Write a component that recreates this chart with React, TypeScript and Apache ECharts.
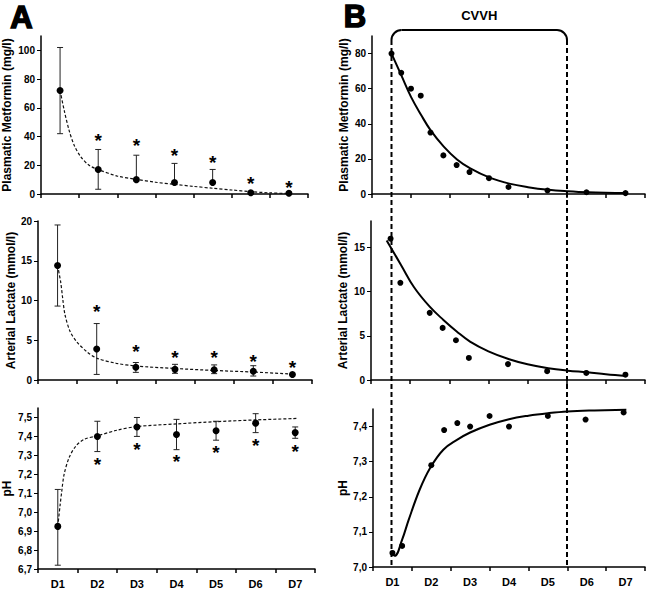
import React, { useEffect, useRef } from 'react';
import * as echarts from 'echarts';

const FONT = '"Liberation Sans", Arial, sans-serif';

// ---- categories ----
const days = ['D1', 'D2', 'D3', 'D4', 'D5', 'D6', 'D7'];
const dayPos = [1, 2, 3, 4, 5, 6, 7];

// ---- Panel A: Plasmatic Metformin (mean, error bars, significance marks, fit) ----
const metMean = [72, 17, 10, 8, 8, 0.9, 0.5];
const metLow = [42, 3.3, null, null, null, null, null];
const metHigh = [102, 31, 27, 21.3, 17.1, null, null];
const metStar = [null, 39.8, 36.8, 29.9, 25, 10.4, 7.6];
const metFitX = [1, 1.11, 1.24, 1.37, 1.54, 1.76, 2, 2.5, 3, 3.5, 4, 4.5, 5, 5.5, 6, 6.5, 7];
const metFitY = [72, 58, 44, 34, 26, 20, 17, 12.5, 10.2, 8.2, 6.7, 5.3, 4, 2.8, 1.6, 0.8, 0.3];

// ---- Panel A: Arterial Lactate ----
const lacMean = [14.4, 3.9, 1.6, 1.34, 1.3, 1.1, 0.7];
const lacLow = [9.3, 0.7, 0.96, 0.84, 0.8, 0.5, null];
const lacHigh = [19.5, 7.1, 2.2, 1.97, 1.9, 1.8, null];
const lacStar = [null, 9.07, 4.06, 3.35, 3.3, 2.8, 2.1];
const lacFitX = [1, 1.08, 1.13, 1.19, 1.32, 1.49, 1.75, 2, 2.5, 3, 4, 5, 6, 7];
const lacFitY = [14.4, 12.3, 10.3, 8.2, 6.1, 4.8, 3.55, 2.75, 2.1, 1.76, 1.45, 1.2, 1.0, 0.75];

// ---- Panel A: pH ----
const phMean = [6.925, 7.4, 7.45, 7.41, 7.43, 7.47, 7.42];
const phLow = [6.72, 7.32, 7.4, 7.33, 7.38, 7.42, 7.39];
const phHigh = [7.12, 7.48, 7.5, 7.49, 7.48, 7.52, 7.45];
const phStar = [null, 7.274, 7.353, 7.288, 7.336, 7.373, 7.341];
const phFitX = [1, 1.06, 1.1, 1.16, 1.29, 1.46, 1.67, 2, 2.5, 3, 4, 5, 6, 7.07];
const phFitY = [6.925, 7.04, 7.11, 7.2, 7.29, 7.35, 7.385, 7.403, 7.433, 7.452, 7.466, 7.478, 7.487, 7.495];

// ---- Panel B: single patient ----
const bMetX = [1, 1.25, 1.5, 1.75, 2, 2.33, 2.67, 3, 3.5, 4, 5, 6, 7];
const bMetY = [80, 69, 60, 56, 35, 22, 16.5, 12.5, 9, 4, 2, 1, 0.5];
const bMetFitX = [1, 1.25, 1.5, 1.76, 2, 2.34, 2.68, 3.02, 3.52, 4.02, 4.5, 5.03, 5.5, 6.03, 7.03];
const bMetFitY = [80, 67.7, 55.3, 45, 36.4, 27, 19.7, 14.6, 9.3, 5.9, 3.9, 2.4, 1.6, 1.0, 0.5];

const bLacX = [1, 1.25, 2, 2.33, 2.67, 3, 4, 5, 6, 7];
const bLacY = [16, 11, 7.6, 5.9, 4.5, 2.5, 1.8, 1.0, 0.8, 0.6];
const bLacFitX = [0.9, 1.27, 1.6, 2, 2.35, 2.69, 3.03, 3.5, 4.03, 4.5, 5.03, 5.53, 6.03, 6.5, 7.02];
const bLacFitY = [15.8, 13.0, 10.5, 8.3, 6.8, 5.5, 4.35, 3.25, 2.35, 1.78, 1.33, 1.06, 0.87, 0.65, 0.45];

const bPhX = [1, 1.25, 2, 2.33, 2.67, 3, 3.5, 4, 5, 5.97, 6.95];
const bPhY = [7.04, 7.06, 7.29, 7.39, 7.41, 7.4, 7.43, 7.4, 7.43, 7.42, 7.44];
const bPhFitX = [0.97, 1.06, 1.25, 1.42, 1.7, 1.97, 2.31, 2.66, 3.0, 3.5, 4.0, 4.5, 5.0, 5.5, 6.2, 7.02];
const bPhFitY = [7.043, 7.032, 7.078, 7.135, 7.22, 7.282, 7.334, 7.362, 7.383, 7.405, 7.421, 7.431, 7.438, 7.443, 7.446, 7.448];

// CVVH period (in day units)
const cvvhStart = 1;
const cvvhEnd = 5.5;

// ---- tick labels ----
const metTicksA = [0, 20, 40, 60, 80, 100];
const lacTicksA = [0, 5, 10, 15, 20];
const phTicksA = [6.7, 6.8, 6.9, 7.0, 7.1, 7.2, 7.3, 7.4, 7.5];
const metTicksB = [0, 20, 40, 60, 80];
const lacTicksB = [0, 5, 10, 15];
const phTicksB = [7.0, 7.1, 7.2, 7.3, 7.4];

const zip = (xs: number[], ys: (number | null)[]) => xs.map((x, i) => [x, ys[i]]);

const grids = [
  { left: 40, top: 36, width: 268, height: 158 },
  { left: 38, top: 221, width: 274, height: 159 },
  { left: 37, top: 408, width: 278, height: 161 },
  { left: 372, top: 36, width: 273, height: 158 },
  { left: 371, top: 221, width: 274, height: 159 },
  { left: 373, top: 409, width: 272, height: 158 },
];

const commaFmt = (v: number) => v.toFixed(1).replace('.', ',');
const intFmt = (v: number) => String(Math.round(v));

const yCfg = [
  { min: 0, max: 110, ticks: metTicksA, name: 'Plasmatic Metformin (mg/l)', gap: 28, fmt: intFmt },
  { min: 0, max: 20, ticks: lacTicksA, name: 'Arterial Lactate (mmol/l)', gap: 19, fmt: intFmt },
  { min: 6.7, max: 7.55, ticks: phTicksA, name: 'pH', gap: 25, fmt: commaFmt },
  { min: 0, max: 90, ticks: metTicksB, name: 'Plasmatic Metformin (mg/l)', gap: 22, fmt: intFmt },
  { min: 0, max: 18, ticks: lacTicksB, name: 'Arterial Lactate (mmol/l)', gap: 22, fmt: intFmt },
  { min: 7.0, max: 7.45, ticks: phTicksB, name: 'pH', gap: 23, fmt: commaFmt },
];

function errData(mean: number[], low: (number | null)[], high: (number | null)[]) {
  const out: number[][] = [];
  mean.forEach((m, i) => {
    const lo = low[i];
    const hi = high[i];
    if (lo == null && hi == null) return;
    out.push([dayPos[i], lo == null ? m : lo, hi == null ? m : hi, m]);
  });
  return out;
}

function starData(stars: (number | null)[]) {
  const out: number[][] = [];
  stars.forEach((s, i) => {
    if (s != null) out.push([dayPos[i], s]);
  });
  return out;
}

const errRender = (params: any, api: any) => {
  const x = api.value(0);
  const lo = api.value(1);
  const hi = api.value(2);
  const m = api.value(3);
  const pLo = api.coord([x, lo]);
  const pHi = api.coord([x, hi]);
  const st = { stroke: '#222', lineWidth: 1 };
  const children: any[] = [
    { type: 'line', shape: { x1: pLo[0], y1: pLo[1], x2: pHi[0], y2: pHi[1] }, style: st },
  ];
  if (hi > m) children.push({ type: 'line', shape: { x1: pHi[0] - 3, y1: pHi[1], x2: pHi[0] + 3, y2: pHi[1] }, style: st });
  if (lo < m) children.push({ type: 'line', shape: { x1: pLo[0] - 3, y1: pLo[1], x2: pLo[0] + 3, y2: pLo[1] }, style: st });
  return { type: 'group', children };
};

const starRender = (params: any, api: any) => {
  const p = api.coord([api.value(0), api.value(1)]);
  return {
    type: 'text',
    x: p[0],
    y: p[1] + 4,
    style: {
      text: '*',
      fill: '#000',
      fontSize: 19,
      fontWeight: 'bold',
      fontFamily: FONT,
      align: 'center',
      verticalAlign: 'middle',
    },
  };
};

export default function App() {
  const ref = useRef<HTMLDivElement>(null);

  useEffect(() => {
    if (!ref.current) return;
    const chart = echarts.init(ref.current, null, { renderer: 'svg' });

    const xAxis: any[] = [];
    const yAxis: any[] = [];
    grids.forEach((g, gi) => {
      const isBottom = gi === 2 || gi === 5;
      xAxis.push({
        type: 'category',
        gridIndex: gi,
        data: days,
        boundaryGap: true,
        axisLine: { onZero: false, lineStyle: { color: '#000', width: 1.5 } },
        axisTick: { show: true, length: 4, inside: false, lineStyle: { color: '#000', width: 1.5 } },
        axisLabel: {
          show: isBottom,
          fontFamily: FONT,
          fontWeight: 'bold',
          fontSize: 11,
          color: '#000',
          margin: 9,
        },
        splitLine: { show: false },
      });
      xAxis.push({ type: 'value', gridIndex: gi, min: 0.5, max: 7.5, show: false });
      const c = yCfg[gi];
      yAxis.push({
        type: 'value',
        gridIndex: gi,
        min: c.min,
        max: c.max,
        name: c.name,
        nameLocation: 'middle',
        nameRotate: 90,
        nameGap: c.gap,
        nameTextStyle: { fontFamily: FONT, fontWeight: 'bold', fontSize: 12, color: '#000' },
        axisLine: { show: true, lineStyle: { color: '#000', width: 1.5 } },
        axisTick: { show: true, length: 4, customValues: c.ticks, lineStyle: { color: '#000', width: 1 } },
        axisLabel: {
          customValues: c.ticks,
          formatter: c.fmt,
          fontFamily: FONT,
          fontWeight: 'bold',
          fontSize: 10,
          color: '#000',
          margin: 6,
        },
        splitLine: { show: false },
      });
    });

    const series: any[] = [];
    const aPanels = [
      { fx: metFitX, fy: metFitY, mean: metMean, low: metLow, high: metHigh, star: metStar },
      { fx: lacFitX, fy: lacFitY, mean: lacMean, low: lacLow, high: lacHigh, star: lacStar },
      { fx: phFitX, fy: phFitY, mean: phMean, low: phLow, high: phHigh, star: phStar },
    ];
    aPanels.forEach((p, gi) => {
      const xi = gi * 2 + 1;
      series.push({
        type: 'line',
        xAxisIndex: xi,
        yAxisIndex: gi,
        data: zip(p.fx, p.fy),
        smooth: 0.3,
        showSymbol: false,
        silent: true,
        z: 2,
        lineStyle: { color: '#111', width: 1.2, type: [3, 2] },
      });
      series.push({
        type: 'custom',
        xAxisIndex: xi,
        yAxisIndex: gi,
        data: errData(p.mean, p.low, p.high),
        renderItem: errRender,
        z: 3,
        silent: true,
      });
      series.push({
        type: 'scatter',
        xAxisIndex: xi,
        yAxisIndex: gi,
        data: zip(dayPos, p.mean),
        symbolSize: 7,
        itemStyle: { color: '#000', opacity: 1 },
        z: 4,
      });
      series.push({
        type: 'custom',
        xAxisIndex: xi,
        yAxisIndex: gi,
        data: starData(p.star),
        renderItem: starRender,
        z: 5,
        silent: true,
      });
    });

    const bPanels = [
      { x: bMetX, y: bMetY, fx: bMetFitX, fy: bMetFitY },
      { x: bLacX, y: bLacY, fx: bLacFitX, fy: bLacFitY },
      { x: bPhX, y: bPhY, fx: bPhFitX, fy: bPhFitY },
    ];
    bPanels.forEach((p, k) => {
      const gi = k + 3;
      const xi = gi * 2 + 1;
      series.push({
        type: 'line',
        xAxisIndex: xi,
        yAxisIndex: gi,
        data: zip(p.fx, p.fy),
        smooth: 0.4,
        showSymbol: false,
        silent: true,
        z: 2,
        lineStyle: { color: '#000', width: 2 },
      });
      series.push({
        type: 'scatter',
        xAxisIndex: xi,
        yAxisIndex: gi,
        data: zip(p.x, p.y),
        symbolSize: 6,
        itemStyle: { color: '#000', opacity: 1 },
        z: 4,
      });
    });

    chart.setOption({
      animation: false,
      backgroundColor: '#fff',
      grid: grids,
      xAxis,
      yAxis,
      series,
    });

    // CVVH bracket and dashed lines, positioned through the right-hand axes
    const x1 = chart.convertToPixel({ xAxisIndex: 7 }, cvvhStart) as number;
    const x2 = chart.convertToPixel({ xAxisIndex: 7 }, cvvhEnd) as number;
    const yBottom = chart.convertToPixel({ yAxisIndex: 5 }, yCfg[5].min) as number;
    const yBr = 30;
    const r = 10;
    const solid = { stroke: '#000', lineWidth: 2, fill: null };
    const dashed = { stroke: '#000', lineWidth: 2, lineDash: [5, 3] };

    chart.setOption({
      graphic: [
        {
          type: 'text',
          x: 21.5,
          y: 17,
          style: { text: 'A', fontSize: 31, fontWeight: 'bold', fontFamily: FONT, fill: '#000', align: 'center', verticalAlign: 'middle', stroke: '#000', lineWidth: 1.5 },
        },
        {
          type: 'text',
          x: 355,
          y: 16,
          style: { text: 'B', fontSize: 31, fontWeight: 'bold', fontFamily: FONT, fill: '#000', align: 'center', verticalAlign: 'middle', stroke: '#000', lineWidth: 1.5 },
        },
        {
          type: 'text',
          x: (x1 + x2) / 2,
          y: 15.5,
          style: { text: 'CVVH', fontSize: 13, fontWeight: 'bold', fontFamily: FONT, fill: '#000', align: 'center', verticalAlign: 'middle' },
        },
        { type: 'line', shape: { x1: x1 + r, y1: yBr, x2: x2 - r, y2: yBr }, style: solid },
        { type: 'arc', shape: { cx: x1 + r, cy: yBr + r, r, startAngle: Math.PI, endAngle: Math.PI * 1.5, clockwise: true }, style: solid },
        { type: 'arc', shape: { cx: x2 - r, cy: yBr + r, r, startAngle: Math.PI * 1.5, endAngle: Math.PI * 2, clockwise: true }, style: solid },
        { type: 'line', shape: { x1: x1, y1: yBr + r, x2: x1, y2: yBottom }, style: dashed, z: 10 },
        { type: 'line', shape: { x1: x2, y1: yBr + r, x2: x2, y2: yBottom }, style: dashed, z: 10 },
      ],
    });

    return () => chart.dispose();
  }, []);

  return (
    <div
      ref={ref}
      style={{ position: 'absolute', left: 0, top: 0, width: 650, height: 591, background: '#fff' }}
    />
  );
}
